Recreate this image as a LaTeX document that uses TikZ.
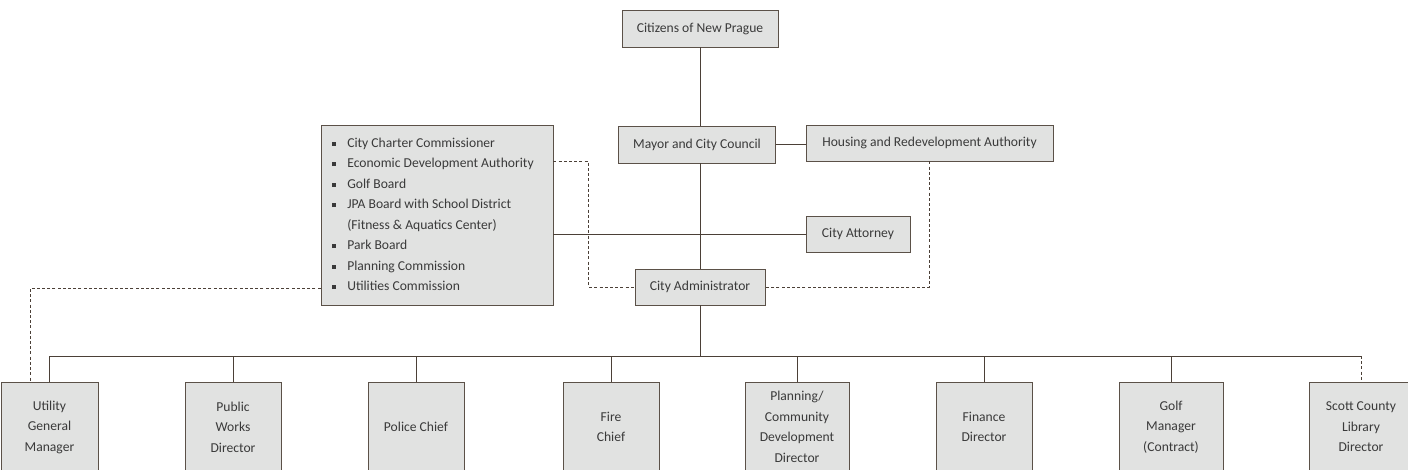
\documentclass[tikz,border=0pt]{standalone}
\usepackage{fontspec}
\setmainfont{Carlito}
\usepackage{xcolor}
\definecolor{boxgray}{HTML}{E1E2E1}
\definecolor{edge}{HTML}{5B5148}
\definecolor{wire}{HTML}{4B4037}
\definecolor{ink}{HTML}{3A3A3A}
\newcommand{\sqbul}{\raisebox{1.8pt}{\rule{4pt}{4pt}}}

\tikzset{
  office/.style={draw=edge,fill=boxgray,line width=0.9pt,text=ink,align=center,
    inner sep=0pt,minimum height=36pt},
  staff/.style={office,minimum width=96pt,minimum height=90pt},
  link/.style={wire,line width=0.8pt},
  dashline/.style={link,dash pattern=on 3pt off 2.2pt}
}

\begin{document}
\begin{tikzpicture}[x=1pt,y=-1pt,font=\fontsize{13.6}{20.5}\selectfont]
\useasboundingbox (0,0) rectangle (1408,470);
\clip (0,0) rectangle (1408,470);

% top of the chart
\node[office,minimum width=156pt,minimum height=37pt] (cit) at (700,28.5) {Citizens of New Prague};
\node[office,minimum width=157pt,minimum height=37pt] (may) at (697,144.5) {Mayor and City Council};
\node[office,minimum width=247pt] (hra) at (929.5,143) {Housing and Redevelopment Authority};
\node[office,minimum width=104pt] (att) at (858,234) {City Attorney};
\node[office,minimum width=130pt] (adm) at (700,287) {City Administrator};

% boards and commissions
\node[office,minimum width=232pt,minimum height=180pt,align=left] (brd) at (437,215) {%
  \begin{tabular}{@{}l@{\hspace{11pt}}l@{}}
  \sqbul & City Charter Commissioner\\
  \sqbul & Economic Development Authority\\
  \sqbul & Golf Board\\
  \sqbul & JPA Board with School District\\
         & (Fitness \& Aquatics Center)\\
  \sqbul & Park Board\\
  \sqbul & Planning Commission\\
  \sqbul & Utilities Commission
  \end{tabular}\hspace{8pt}};

% department heads
\node[staff,minimum width=97pt] (ugm) at (49.5,427) {Utility\\General\\Manager};
\node[staff] (pwd) at (233,427) {Public\\Works\\Director};
\node[staff] (pol) at (416,427) {Police Chief};
\node[staff] (fir) at (611,427) {Fire\\Chief};
\node[staff,minimum width=104pt] (pcd) at (797,427) {Planning/\\Community\\Development\\Director};
\node[staff] (fin) at (984,427) {Finance\\Director};
\node[staff,minimum width=104pt] (gol) at (1171,427) {Golf\\Manager\\(Contract)};
\node[staff,minimum width=104pt] (lib) at (1361,427) {Scott County\\Library\\Director};

\coordinate (bus) at (700,356);

% reporting lines
\draw[link] (cit.south) -- (cit.south |- may.north);
\draw[link] (may.east) -- (may.east -| hra.west);
\draw[link] (adm.north |- may.south) -- (adm.north);
\draw[link] (brd.east |- att.west) -- (att.west);
\draw[link] (adm.south) -- (bus);
\draw[link] (ugm.north |- bus) -- (lib.north |- bus);
\foreach \n in {ugm,pwd,pol,fir,pcd,fin,gol}
  \draw[link] (\n.north |- bus) -- (\n.north);
\draw[dashline] (lib.north |- bus) -- (lib.north);

% advisory lines
\draw[dashline] ([yshift=-37pt]brd.north east) -| ([xshift=-46pt]adm.west) -- (adm.west);
\draw[dashline] (hra.south) |- (adm.east);
\draw[dashline] ([yshift=17pt]brd.south west) -| ([xshift=-19.5pt]ugm.north);
\end{tikzpicture}
\end{document}
